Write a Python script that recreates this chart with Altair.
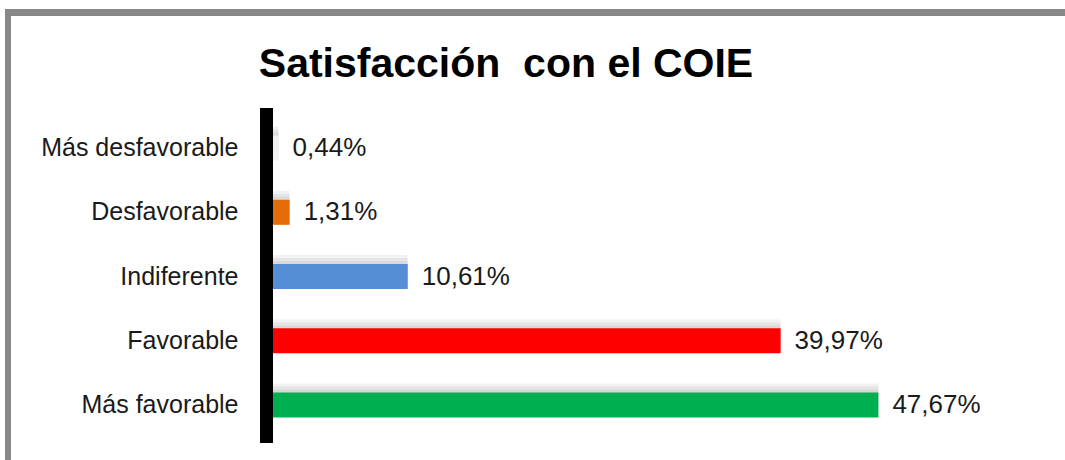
import altair as alt
import pandas as pd

categories = ["Más desfavorable", "Desfavorable", "Indiferente", "Favorable", "Más favorable"]
values = [0.44, 1.31, 10.61, 39.97, 47.67]
colors = ["#F2F2F2", "#E46C0A", "#558ED5", "#FF0000", "#00B050"]
labels = [f"{v:.2f}".replace(".", ",") + "%" for v in values]
title_text = "Satisfacción\u00a0 con el COIE"

df = pd.DataFrame({"cat": categories, "val": values, "lab": labels, "col": colors})

W, H = 635, 321
PL, PT = 273, 116
FONT = "Liberation Sans"

x = alt.X("val:Q", scale=alt.Scale(domain=[0, 50]), axis=None)
y = alt.Y("cat:N", sort=categories, scale=alt.Scale(paddingInner=0.61, paddingOuter=0.305),
          axis=alt.Axis(title=None, domain=False, ticks=False, labelFontSize=25,
                        labelColor="#1a1a1a", labelFont=FONT, labelPadding=35, labelLimit=400))

base = alt.Chart(df)

shadows = [
    base.mark_bar(color="#000000", opacity=0.05, yOffset=-off, x2Offset=off)
    .encode(x=x, y=y) for off in (3, 6, 9)
]

bars = base.mark_bar().encode(x=x, y=y, color=alt.Color("col:N", scale=None))

text = base.mark_text(align="left", baseline="middle", dx=14, fontSize=26,
                      font=FONT, color="#1a1a1a").encode(x=x, y=y, text="lab:N")

one = pd.DataFrame({"a": [0]})

axis_bar = alt.Chart(one).mark_rect(color="#000000").encode(
    x=alt.value(-13), x2=alt.value(0), y=alt.value(-8), y2=alt.value(H + 6))

border_top = alt.Chart(one).mark_rect(color="#888888").encode(
    x=alt.value(5 - PL), x2=alt.value(1065 - PL), y=alt.value(9 - PT), y2=alt.value(16 - PT))
border_left = alt.Chart(one).mark_rect(color="#888888").encode(
    x=alt.value(5 - PL), x2=alt.value(11 - PL), y=alt.value(9 - PT), y2=alt.value(460 - PT))

title = alt.Chart(pd.DataFrame({"t": [title_text]})).mark_text(
    align="center", baseline="alphabetic", fontSize=41, fontWeight="bold", font=FONT,
    color="#000000").encode(x=alt.value(506 - PL), y=alt.value(77 - PT), text="t:N")

chart = alt.layer(*shadows, bars, text, axis_bar, border_top, border_left, title).properties(
    width=W, height=H,
    autosize=alt.AutoSizeParams(type="none"),
    padding={"left": PL, "top": PT, "right": 1065 - PL - W, "bottom": 460 - PT - H},
).configure(background="#ffffff").configure_view(strokeWidth=0)

chart.save("out.html", embed_options={"renderer": "svg", "actions": False})
